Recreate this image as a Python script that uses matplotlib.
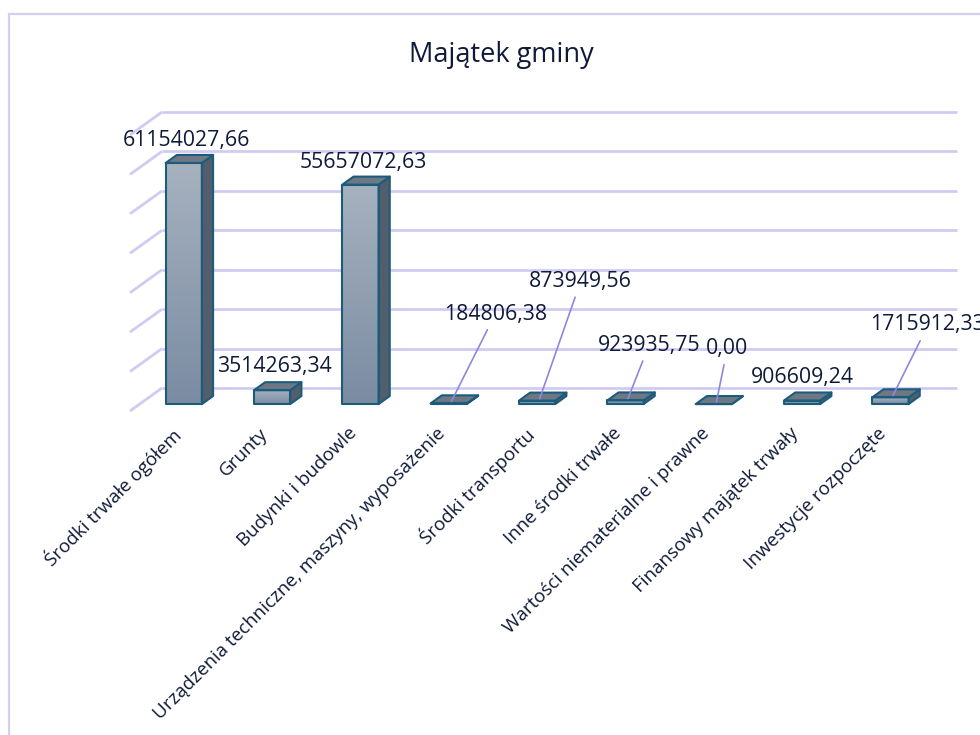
import numpy as np
import matplotlib
matplotlib.use("Agg")
import matplotlib.pyplot as plt
from matplotlib.patches import Polygon, Rectangle
from matplotlib.colors import LinearSegmentedColormap

# ---------------- data ----------------
title = "Majątek gminy"
categories = [
    "Środki trwałe ogółem",
    "Grunty",
    "Budynki i budowle",
    "Urządzenia techniczne, maszyny, wyposażenie",
    "Środki transportu",
    "Inne środki trwałe",
    "Wartości niematerialne i prawne",
    "Finansowy majątek trwały",
    "Inwestycje rozpoczęte",
]
values = [61154027.66, 3514263.34, 55657072.63, 184806.38, 873949.56,
          923935.75, 0.00, 906609.24, 1715912.33]
y_max = 70_000_000
y_step = 10_000_000

# ---------------- layout / style ----------------
# label offsets (pixels, from bar top) and whether a leader line is drawn
label_offsets = [(0, 15), (0, 16), (0, 15), (44, 82), (41, 112),
                 (21, 48), (11, 48), (-2, 16), (35, 65)]
leaders = [False, False, False, True, True, True, True, False, True]

TXT = "#0f1a38"
GRID = "#d0cbf3"
LEADER = "#8e88dc"
EDGE = "#1b5b7c"
SIDE = "#535e6c"
TOP = "#6e7885"
front_cmap = LinearSegmentedColormap.from_list("front", ["#7a8ba2", "#a7b2bf"])
FONT = "Open Sans"

W, H = 980, 735
fig = plt.figure(figsize=(W / 100, H / 100), dpi=100)
fig.patch.set_facecolor("white")

# outer chart border
fig.add_artist(Rectangle((9 / W, -0.05), 1.2, (1 - 14 / H) + 0.05,
                         transform=fig.transFigure, fill=False,
                         edgecolor="#d3cff2", lw=1.6, zorder=0))

ax = fig.add_axes([162 / W, 1 - 388 / H, 795 / W, 276 / H])
n = len(categories)
ax.set_xlim(-0.5, n - 0.5)
ax.set_ylim(0, y_max)
ax.set_autoscale_on(False)
ax.axis("off")

DEPTH = np.array([-32.0, -23.0])  # display shift from back wall to front edge


def P(x, y, d):
    """Project a point (category x, value y, depth d) into data coordinates."""
    disp = ax.transData.transform((x, y)) + d * DEPTH
    return ax.transData.inverted().transform(disp)


# back wall gridlines + left wall diagonals
for v in np.arange(0, y_max + 1, y_step):
    ax.plot([-0.5, n - 0.5], [v, v], color=GRID, lw=2.0, zorder=1,
            clip_on=False, solid_capstyle="butt")
    a, b = P(-0.5, v, 0), P(-0.5, v, 1)
    ax.plot([a[0], b[0]], [a[1], b[1]], color=GRID, lw=2.0, zorder=1,
            clip_on=False, solid_capstyle="butt")

# 3-D bars
bw, dfr, dbk = 0.41, 0.70, 0.35
grad = np.linspace(0, 1, 256).reshape(-1, 1)
for i, v in enumerate(values):
    z = 3 + i * 0.1
    x0, x1 = i - bw / 2, i + bw / 2
    fl, fr = P(x0, 0, dfr), P(x1, 0, dfr)
    tl, tr = P(x0, v, dfr), P(x1, v, dfr)
    bb, bt, blt = P(x1, 0, dbk), P(x1, v, dbk), P(x0, v, dbk)
    if v > 0:
        im = ax.imshow(grad, cmap=front_cmap, origin="lower", aspect="auto",
                       extent=[fl[0], fr[0], fl[1], tl[1]], zorder=z,
                       interpolation="bilinear")
        im.set_clip_on(False)
    ax.add_patch(Polygon([fr, bb, bt, tr], closed=True, facecolor=SIDE,
                         edgecolor=EDGE, lw=1.5, zorder=z + 0.01,
                         clip_on=False, joinstyle="round"))
    ax.add_patch(Polygon([tl, tr, bt, blt], closed=True, facecolor=TOP,
                         edgecolor=EDGE, lw=1.5, zorder=z + 0.02,
                         clip_on=False, joinstyle="round"))
    ax.add_patch(Polygon([fl, fr, tr, tl], closed=True, fill=False,
                         edgecolor=EDGE, lw=1.5, zorder=z + 0.03,
                         clip_on=False, joinstyle="round"))

# data labels
for i, v in enumerate(values):
    txt = f"{v:.2f}".replace(".", ",")
    xy = P(i, v, 0.62)
    ap = None
    if leaders[i]:
        ap = dict(arrowstyle="-", color=LEADER, lw=1.2, shrinkA=2, shrinkB=0)
    ax.annotate(txt, xy=xy, xytext=label_offsets[i], textcoords="offset pixels",
                ha="center", va="baseline", fontsize=15.3, color=TXT,
                family=FONT, annotation_clip=False, arrowprops=ap, zorder=10)

# category labels
for i, c in enumerate(categories):
    xy = P(i, 0, dfr)
    ax.annotate(c, xy=xy, xytext=(-13, -20), textcoords="offset pixels",
                rotation=45, rotation_mode="anchor", ha="right", va="top",
                fontsize=13.5, color=TXT, family=FONT, annotation_clip=False)

# title
fig.text(501 / W, 1 - 62 / H, title, ha="center", va="baseline",
         fontsize=19.5, color=TXT, family=FONT)

fig.savefig("out.png", dpi=100, facecolor="white")
